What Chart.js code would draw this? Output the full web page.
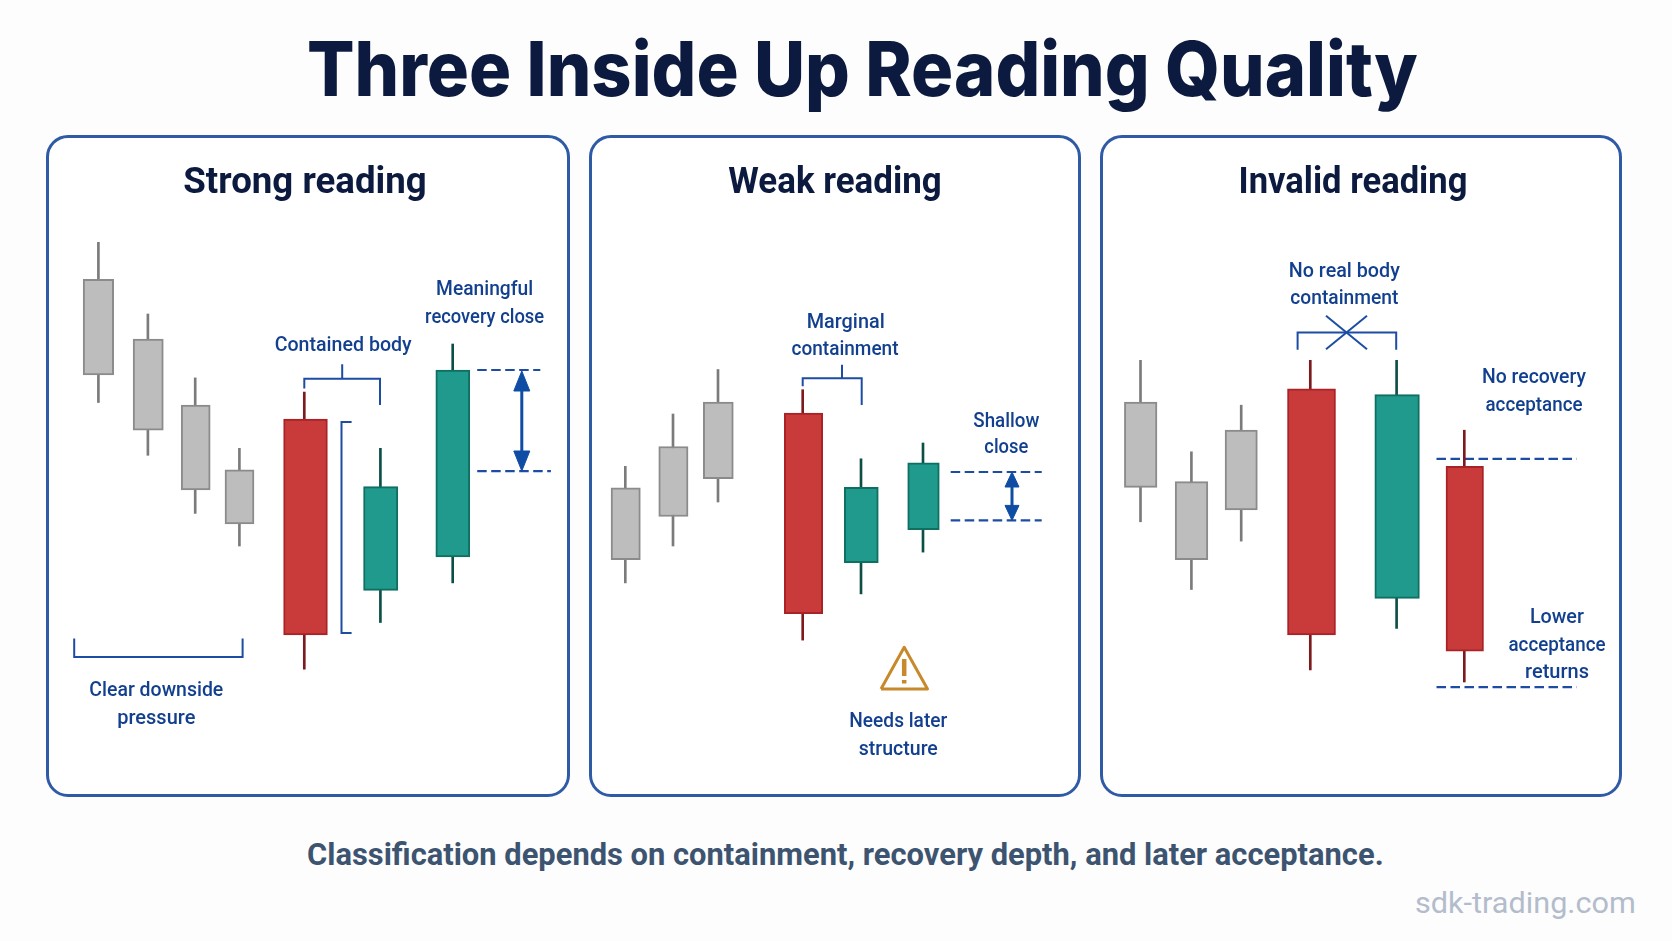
<!DOCTYPE html>
<html>
<head>
<meta charset="utf-8">
<title>Three Inside Up Reading Quality</title>
<script src="https://cdn.jsdelivr.net/npm/chart.js@4"></script>
<style>
    html, body { margin: 0; padding: 0; background: #fdfdfe; }
    body { position: relative; width: 1672px; height: 941px; overflow: hidden; font-family: Inter, sans-serif; }
    h1, h2, p { position: absolute; margin: 0; white-space: nowrap; }
    h1 { left: 307px; top: 22px; font-size: 76px; line-height: 92px; font-weight: 800; color: #0b1a3e; transform: scaleX(0.925); transform-origin: left center; }
    h2 { top: 157.5px; font-family: Roboto, sans-serif; font-size: 36px; line-height: 46px; font-weight: 700; color: #0b1a3e; }
    .panel { position: absolute; top: 135px; height: 662px; box-sizing: border-box; border: 3px solid #2f5ba6; border-radius: 22px; background: #fff; }
    canvas { position: absolute; top: 135px; }
    #note { left: 307px; top: 832.5px; font-family: Roboto, sans-serif; font-size: 32px; line-height: 42px; font-weight: 700; color: #3d5470; transform: scaleX(0.965); transform-origin: left center; }
    #site { left: 1415px; top: 885px; font-family: Roboto, sans-serif; font-size: 29px; line-height: 36px; color: #b3bccb; transform: scaleX(1.056); transform-origin: left center; }
</style>
</head>
<body>
<h1>Three Inside Up Reading Quality</h1>

<div class="panel" style="left:45.5px;width:524.5px"></div>
<div class="panel" style="left:589px;width:492px"></div>
<div class="panel" style="left:1100px;width:522px"></div>

<canvas id="strong-chart" width="524" height="661" style="left:46px"></canvas>
<canvas id="weak-chart" width="490" height="661" style="left:590px"></canvas>
<canvas id="invalid-chart" width="522" height="661" style="left:1100px"></canvas>

<h2 style="left:305px;transform:translateX(-50%) scaleX(1.018)">Strong reading</h2>
<h2 style="left:835px;transform:translateX(-50%) scaleX(0.97)">Weak reading</h2>
<h2 style="left:1353px;transform:translateX(-50%) scaleX(0.96)">Invalid reading</h2>

<p id="note">Classification depends on containment, recovery depth, and later acceptance.</p>
<p id="site">sdk-trading.com</p>

<script>
// values, price axis runs from the panel bottom up
const strongKinds = ['prior', 'prior', 'prior', 'prior', 'bear', 'bull', 'bull'];
const strongOpen = [516.7, 456.9, 390.8, 326.2, 376.8, 205.6, 239];
const strongClose = [421.2, 365.8, 306, 272, 161.1, 309.4, 426];
const strongHigh = [553.7, 482, 418.1, 347.7, 404, 347.7, 452];
const strongLow = [393.5, 340.7, 282.6, 250, 126.8, 173.5, 213.1];

const weakKinds = ['prior', 'prior', 'prior', 'bear', 'bull', 'bull'];
const weakOpen = [236.4, 279.5, 317.4, 383, 233.3, 266.3];
const weakClose = [308.1, 349.5, 394, 182.3, 308.6, 333.2];
const weakHigh = [329.7, 382, 426.5, 406.3, 337.2, 353];
const weakLow = [213.1, 250, 294, 155.9, 202.1, 243.9];

const invalidKinds = ['prior', 'prior', 'prior', 'bear', 'bull', 'bear'];
const invalidOpen = [394, 314.3, 286.1, 407.1, 197.7, 329.7];
const invalidClose = [308.6, 236.4, 365.8, 161.1, 401.4, 144.9];
const invalidHigh = [435.7, 344.2, 390.8, 435.7, 435.7, 365.8];
const invalidLow = [274.2, 206.5, 254.9, 126, 167.7, 114];

// where the candles sit along each panel, and how wide they are
const strongSlots = [52.4, 102.2, 149.7, 193.5, 259.5, 334.7, 406.8];
const strongWicks = [52.4, 101.9, 149.2, 193.4, 258.3, 334.4, 406.7];
const strongWidths = [30.5, 30.2, 29, 29, 43.8, 34.3, 34];
const weakSlots = [35.7, 83.4, 128.3, 213.5, 271.3, 333.5];
const weakWicks = [35.3, 83, 128, 212.7, 271, 333];
const weakWidths = [29.3, 29.3, 30, 38.4, 34, 31.6];
const invalidSlots = [40.7, 91.5, 141.2, 211.5, 297.1, 364.75];
const invalidWicks = [40.5, 91.4, 141.2, 210.3, 296.6, 364.3];
const invalidWidths = [32.6, 32.7, 32.3, 48, 44.6, 37.5];

// text, x, price level, width limit
const strongNotes = [
    ['Clear downside', 110.3, 105, 134], ['pressure', 110.3, 77, 134],
    ['Contained body', 297.2, 450.5, 137],
    ['Meaningful', 438.6, 506, 97], ['recovery close', 438.6, 478.2, 119],
];
const weakNotes = [
    ['Marginal', 255.7, 473, 78], ['containment', 255, 445.6, 107],
    ['Shallow', 416.3, 374.3, 66], ['close', 416.3, 348.4, 44],
    ['Needs later', 308.3, 74.2, 98], ['structure', 308.3, 46.5, 79],
];
const invalidNotes = [
    ['No real body', 244.3, 524.4, 111], ['containment', 244.3, 496.7, 108],
    ['No recovery', 434, 417.9, 104], ['acceptance', 434, 390.2, 97],
    ['Lower', 456.9, 178, 54], ['acceptance', 457, 150.3, 97], ['returns', 457, 123.1, 65],
];

const BLUE = '#12408f';
const LINE_BLUE = '#1c4da3';
const ARROW_BLUE = '#0f4ca3';
const AMBER = '#c8892a';
const BODY = { prior: '#bdbdbd', bear: '#c93a3a', bull: '#1f9a8c' };
const EDGE = { prior: '#8b8b8b', bear: '#a92226', bull: '#0f6f62' };
const WICK = { prior: '#7b7b7b', bear: '#7d1a1e', bull: '#0c4f47' };

function pts(...pairs) {
    return pairs.map(([x, y]) => ({ x, y }));
}

function guide(data, extra = {}) {
    return { type: 'line', data, borderColor: LINE_BLUE, borderWidth: 2, pointRadius: 0, fill: false, order: 10, ...extra };
}

function dashed(x1, x2, y) {
    return guide(pts([x1, y], [x2, y]), { borderDash: [9.5, 4.5], borderWidth: 2.2, order: 12 });
}

// double headed arrow between two price levels
function arrow(x, top, bottom, w, h) {
    const head = (tip, base) => guide(pts([x - w / 2, base], [x, tip], [x + w / 2, base], [x - w / 2, base]), {
        borderColor: ARROW_BLUE, backgroundColor: ARROW_BLUE, fill: 'shape', borderWidth: 1,
    });
    return [
        guide(pts([x, top - h / 2], [x, bottom + h / 2]), { borderColor: ARROW_BLUE, borderWidth: 3 }),
        head(top, top - h),
        head(bottom, bottom + h),
    ];
}

function candles(kinds, slots, wicks, widths, open, close, high, low) {
    const sets = [{
        type: 'bar',
        data: wicks.map((x, i) => ({ x, y: [low[i], high[i]] })),
        backgroundColor: kinds.map((k) => WICK[k]),
        barThickness: 2,
        grouped: false,
        order: 5,
    }];
    kinds.forEach((k, i) => {
        sets.push({
            type: 'bar',
            data: [{ x: slots[i], y: [open[i], close[i]] }],
            backgroundColor: BODY[k],
            borderColor: EDGE[k],
            borderWidth: 2,
            borderSkipped: false,
            barThickness: widths[i],
            grouped: false,
            order: 1,
        });
    });
    return sets;
}

const notesPlugin = {
    id: 'notes',
    afterDatasetsDraw(chart, args, opts) {
        const ctx = chart.ctx;
        ctx.save();
        ctx.fillStyle = BLUE;
        ctx.font = '500 20px Roboto, sans-serif';
        ctx.textAlign = 'center';
        ctx.textBaseline = 'middle';
        opts.items.forEach(([text, x, y, limit]) => {
            ctx.fillText(text, chart.scales.x.getPixelForValue(x), chart.scales.y.getPixelForValue(y), limit);
        });
        ctx.restore();
    },
};

function draw(id, width, datasets, notes) {
    new Chart(document.getElementById(id).getContext('2d'), {
        data: { datasets },
        plugins: [notesPlugin],
        options: {
            responsive: false,
            animation: false,
            events: [],
            layout: { padding: 0 },
            plugins: { legend: { display: false }, tooltip: { enabled: false }, notes: { items: notes } },
            scales: {
                x: { type: 'linear', display: false, min: 0, max: width, offset: false },
                y: { type: 'linear', display: false, min: 0, max: 661 },
            },
        },
    });
}

draw('strong-chart', 524, [
    ...candles(strongKinds, strongSlots, strongWicks, strongWidths, strongOpen, strongClose, strongHigh, strongLow),
    guide(pts([258.3, 407.6], [258.3, 417.3], [334, 417.3], [334, 390.9])),
    guide(pts([296.2, 431.8], [296.2, 417.3])),
    guide(pts([305.6, 374.1], [295.5, 374.1], [295.5, 162.9], [305.6, 162.9])),
    guide(pts([28.2, 157.6], [28.2, 139.1], [196.6, 139.1], [196.6, 157.6])),
    dashed(431.2, 494.3, 426),
    dashed(431.2, 504.9, 324.8),
    ...arrow(475.8, 425, 325, 16, 20),
], strongNotes);

draw('weak-chart', 490, [
    ...candles(weakKinds, weakSlots, weakWicks, weakWidths, weakOpen, weakClose, weakHigh, weakLow),
    guide(pts([212.7, 409.8], [212.7, 417.7], [271.7, 417.7], [271.7, 390.9])),
    guide(pts([252, 431.3], [252, 417.7])),
    dashed(360.7, 451.7, 324),
    dashed(360.7, 451.7, 275.6),
    ...arrow(422, 324, 275.6, 14, 15),
    // warning sign
    guide(pts([291, 107], [314.2, 148.8], [337.5, 107], [291, 107]), { borderColor: AMBER, borderWidth: 3, borderJoinStyle: 'round' }),
    guide(pts([314.2, 137], [314.2, 120]), { borderColor: AMBER, borderWidth: 4.5 }),
    guide(pts([314.2, 116], [314.2, 112.5]), { borderColor: AMBER, borderWidth: 4.5 }),
], weakNotes);

draw('invalid-chart', 522, [
    ...candles(invalidKinds, invalidSlots, invalidWicks, invalidWidths, invalidOpen, invalidClose, invalidHigh, invalidLow),
    guide(pts([197.6, 446.3], [197.6, 463.5], [296.2, 463.5], [296.2, 446.3])),
    guide(pts([226, 480.2], [267, 446.7])),
    guide(pts([267, 480.2], [226, 446.7])),
    dashed(336.5, 476.8, 337.2),
    dashed(336.5, 476.8, 108.8),
], invalidNotes);
</script>
</body>
</html>
